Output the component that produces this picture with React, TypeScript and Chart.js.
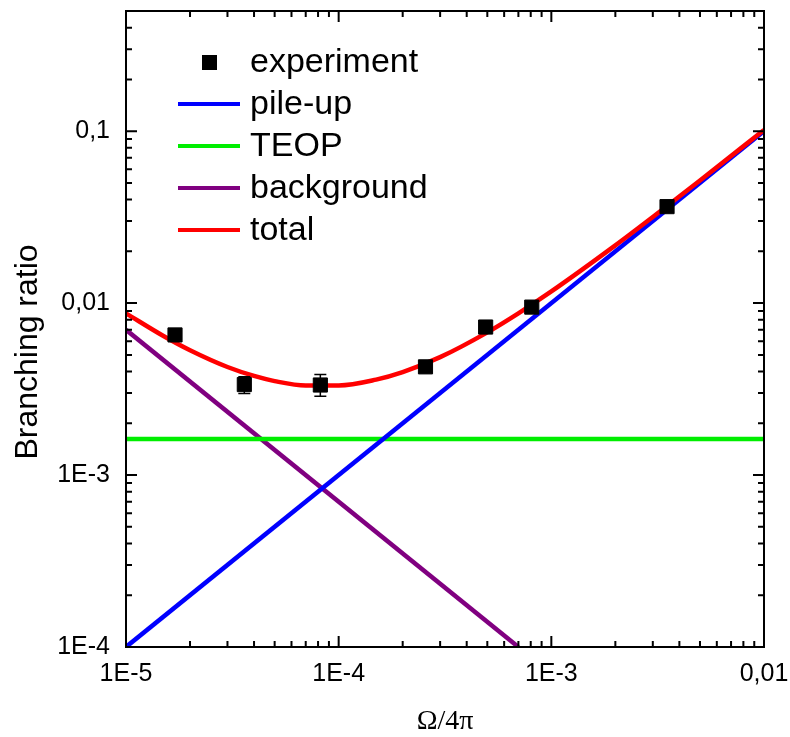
import React, { useEffect, useRef } from "react";
import { Chart, registerables } from "chart.js";

Chart.register(...registerables);

// ---- data ----
const xExp = [1.7e-5, 3.6e-5, 8.2e-5, 2.56e-4, 4.91e-4, 8.09e-4, 3.5e-3];
const yExp = [6.53e-3, 3.36e-3, 3.34e-3, 4.26e-3, 7.26e-3, 9.48e-3, 0.0364];
const yExpLow = [6.25e-3, 2.98e-3, 2.87e-3, 4.08e-3, 6.95e-3, 9.1e-3, 0.0352];
const yExpHigh = [6.8e-3, 3.73e-3, 3.84e-3, 4.45e-3, 7.55e-3, 9.85e-3, 0.0377];

const xPileUp = [1e-5, 1e-2];
const yPileUp = [1e-4, 1e-1];

const xTeop = [1e-5, 1e-2];
const yTeop = [1.62e-3, 1.62e-3];

const xBackground = [1e-5, 7e-4];
const yBackground = [7e-3, 1e-4];

const xTotal = [1e-5, 1.5e-5, 2e-5, 3e-5, 4e-5, 5e-5, 7e-5, 1e-4, 1.5e-4, 2e-4, 3e-4, 5e-4, 7e-4, 1e-3, 2e-3, 3e-3, 5e-3, 1e-2];
const yTotal = [8.72e-3, 6.44e-3, 5.32e-3, 4.25e-3, 3.77e-3, 3.52e-3, 3.32e-3, 3.32e-3, 3.59e-3, 3.97e-3, 4.85e-3, 6.76e-3, 8.72e-3, 1.169e-2, 2.166e-2, 3.166e-2, 5.164e-2, 0.1016];

const xTickValues = [1e-5, 1e-4, 1e-3, 1e-2];
const xTickLabels = ["1E-5", "1E-4", "1E-3", "0,01"];
const yTickValues = [1e-4, 1e-3, 1e-2, 1e-1];
const yTickLabels = ["1E-4", "1E-3", "0,01", "0,1"];

const xMin = 1e-5;
const xMax = 1e-2;
const yMin = 1e-4;
const yMax = 0.5;

const xTitle = "\u03A9/4\u03C0";
const yTitle = "Branching ratio";
const legendOrder = ["experiment", "pile-up", "TEOP", "background", "total"];

const SANS = "'Liberation Sans', Arial, sans-serif";
const SERIF = "'Liberation Serif', 'Times New Roman', serif";

const pts = (xs: number[], ys: number[]) => xs.map((x, i) => ({ x, y: ys[i] }));

const labelFor = (vals: number[], labels: string[]) => (value: any) => {
  const v = Number(value);
  const i = vals.findIndex((t) => Math.abs(Math.log10(t) - Math.log10(v)) < 1e-6);
  return i >= 0 ? labels[i] : "";
};

const decorPlugin = {
  id: "decor",
  afterDatasetsDraw(chart: any) {
    const { ctx, chartArea } = chart;
    const { left, right, top, bottom } = chartArea;
    const xs = chart.scales.x;
    const ys = chart.scales.y;
    const ds = chart.data.datasets[0];
    ctx.save();
    // error bars
    ctx.strokeStyle = "#000";
    ctx.lineWidth = 1.5;
    ds.data.forEach((p: any, i: number) => {
      const px = xs.getPixelForValue(p.x);
      const yl = ys.getPixelForValue(yExpLow[i]);
      const yh = ys.getPixelForValue(yExpHigh[i]);
      ctx.beginPath();
      ctx.moveTo(px, yl);
      ctx.lineTo(px, yh);
      ctx.moveTo(px - 6, yl);
      ctx.lineTo(px + 6, yl);
      ctx.moveTo(px - 6, yh);
      ctx.lineTo(px + 6, yh);
      ctx.stroke();
    });
    // frame
    ctx.lineWidth = 2;
    ctx.strokeStyle = "#000";
    ctx.strokeRect(left, top, right - left, bottom - top);
    // ticks
    const tickVals = (min: number, max: number) => {
      const out: { v: number; major: boolean }[] = [];
      for (let d = Math.floor(Math.log10(min)); d <= Math.ceil(Math.log10(max)); d++) {
        for (let m = 1; m <= 9; m++) {
          const v = m * Math.pow(10, d);
          if (v >= min * 0.9999 && v <= max * 1.0001) out.push({ v, major: m === 1 });
        }
      }
      return out;
    };
    ctx.beginPath();
    tickVals(xMin, xMax).forEach(({ v, major }) => {
      const px = xs.getPixelForValue(v);
      const len = major ? 11 : 6;
      ctx.moveTo(px, bottom);
      ctx.lineTo(px, bottom - len);
      ctx.moveTo(px, top);
      ctx.lineTo(px, top + len);
    });
    tickVals(yMin, yMax).forEach(({ v, major }) => {
      const py = ys.getPixelForValue(v);
      const len = major ? 11 : 6;
      ctx.moveTo(left, py);
      ctx.lineTo(left + len, py);
      ctx.moveTo(right, py);
      ctx.lineTo(right - len, py);
    });
    ctx.stroke();
    // legend
    const rowY0 = 62;
    const rowGap = 42;
    ctx.font = `34px ${SANS}`;
    ctx.textBaseline = "middle";
    ctx.textAlign = "left";
    legendOrder.forEach((lab, i) => {
      const d = chart.data.datasets.find((s: any) => s.label === lab);
      if (!d) return;
      const y = rowY0 + i * rowGap;
      if (d.showLine === false) {
        ctx.fillStyle = d.backgroundColor;
        ctx.fillRect(202, y - 7, 15, 15);
      } else {
        ctx.strokeStyle = d.borderColor;
        ctx.lineWidth = 4;
        ctx.beginPath();
        ctx.moveTo(178, y);
        ctx.lineTo(240, y);
        ctx.stroke();
      }
      ctx.fillStyle = "#000";
      ctx.fillText(lab, 250, y + 1);
    });
    // axis titles
    ctx.fillStyle = "#000";
    ctx.font = `32px ${SANS}`;
    ctx.save();
    ctx.translate(28, 352);
    ctx.rotate(-Math.PI / 2);
    ctx.textAlign = "center";
    ctx.textBaseline = "middle";
    ctx.fillText(yTitle, 0, 0);
    ctx.restore();
    ctx.font = `28px ${SERIF}`;
    ctx.textAlign = "center";
    ctx.textBaseline = "middle";
    ctx.fillText(xTitle, (left + right) / 2, 722);
    ctx.restore();
  },
};

export default function App() {
  const ref = useRef<HTMLCanvasElement | null>(null);
  useEffect(() => {
    if (!ref.current) return;
    const chart = new Chart(ref.current, {
      type: "line",
      data: {
        datasets: [
          {
            label: "experiment",
            data: pts(xExp, yExp),
            showLine: false,
            pointStyle: "rect",
            pointRadius: 10,
            backgroundColor: "#000",
            borderColor: "#000",
            borderWidth: 1,
          },
          {
            label: "total",
            data: pts(xTotal, yTotal),
            borderColor: "#ff0000",
            backgroundColor: "#ff0000",
            borderWidth: 4.5,
            pointRadius: 0,
            cubicInterpolationMode: "monotone",
          },
          {
            label: "pile-up",
            data: pts(xPileUp, yPileUp),
            borderColor: "#0000ff",
            backgroundColor: "#0000ff",
            borderWidth: 4.5,
            pointRadius: 0,
          },
          {
            label: "TEOP",
            data: pts(xTeop, yTeop),
            borderColor: "#00ee00",
            backgroundColor: "#00ee00",
            borderWidth: 4.5,
            pointRadius: 0,
          },
          {
            label: "background",
            data: pts(xBackground, yBackground),
            borderColor: "#800080",
            backgroundColor: "#800080",
            borderWidth: 4.5,
            pointRadius: 0,
          },
        ],
      },
      options: {
        animation: false,
        responsive: false,
        devicePixelRatio: 1,
        events: [],
        layout: { padding: { left: 0, right: 26, top: 10, bottom: 0 } },
        plugins: { legend: { display: false }, tooltip: { enabled: false } },
        scales: {
          x: {
            type: "logarithmic",
            min: xMin,
            max: xMax,
            afterBuildTicks: (s: any) => {
              s.ticks = xTickValues.map((v) => ({ value: v }));
            },
            afterFit: (s: any) => {
              s.height = 90;
              s.paddingLeft = 0;
              s.paddingRight = 0;
              s.paddingTop = 0;
              s.paddingBottom = 0;
            },
            grid: { display: false, drawTicks: false },
            border: { display: true, color: "#000", width: 2 },
            ticks: {
              autoSkip: false,
              maxRotation: 0,
              padding: 12,
              color: "#000",
              font: { family: SANS, size: 25 },
              callback: labelFor(xTickValues, xTickLabels),
            },
          },
          y: {
            type: "logarithmic",
            min: yMin,
            max: yMax,
            afterBuildTicks: (s: any) => {
              s.ticks = yTickValues.map((v) => ({ value: v }));
            },
            afterFit: (s: any) => {
              s.width = 126;
              s.paddingLeft = 0;
              s.paddingRight = 0;
              s.paddingTop = 0;
              s.paddingBottom = 0;
            },
            grid: { display: false, drawTicks: false },
            border: { display: true, color: "#000", width: 2 },
            ticks: {
              autoSkip: false,
              padding: 16,
              color: "#000",
              font: { family: SANS, size: 25 },
              callback: labelFor(yTickValues, yTickLabels),
            },
          },
        },
      },
      plugins: [decorPlugin],
    } as any);
    return () => chart.destroy();
  }, []);
  return (
    <div style={{ position: "absolute", left: 0, top: 0, width: 790, height: 737, background: "#fff" }}>
      <canvas ref={ref} width={790} height={737} style={{ display: "block" }} />
    </div>
  );
}
